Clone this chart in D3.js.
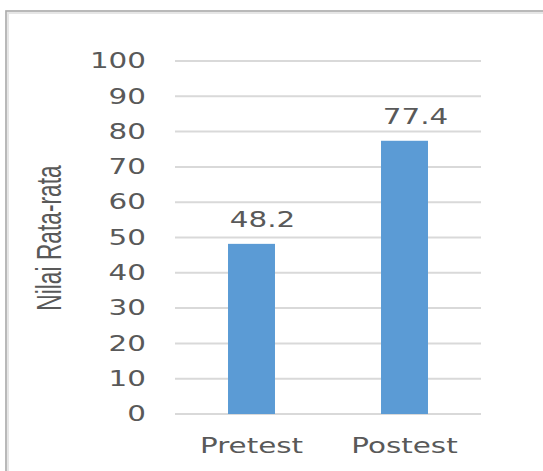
<!DOCTYPE html>
<html>
<head>
<meta charset="utf-8">
<script src="https://cdn.jsdelivr.net/npm/d3@7"></script>
<style>
  body { margin: 0; background: #fff; }
  svg { display: block; }
</style>
</head>
<body>
<svg id="chart" width="543" height="471"></svg>
<script>
var categories = ['Pretest', 'Postest'];
var values = [48.2, 77.4];
var yTicks = [0, 10, 20, 30, 40, 50, 60, 70, 80, 90, 100];
var yTitle = 'Nilai Rata-rata';

var svg = d3.select('#chart');
var textColor = '#595959';
var sx = 1.4; // the picture is stretched wide

// outer frame (runs off the right and bottom edges)
svg.append('rect')
    .attr('x', 7).attr('y', 12)
    .attr('width', 560).attr('height', 480)
    .attr('fill', 'none')
    .attr('stroke', '#e6e6e6')
    .attr('stroke-width', 4);
svg.append('rect')
    .attr('x', 6).attr('y', 11)
    .attr('width', 560).attr('height', 480)
    .attr('fill', 'none')
    .attr('stroke', '#ababab')
    .attr('stroke-width', 1.5);

var y = d3.scaleLinear().domain([0, 100]).range([414, 61]);
var x = d3.scaleBand().domain(categories).range([175, 481]).padding(0);
var barW = x.bandwidth() * 0.307;

// gridlines
svg.append('g').selectAll('line')
    .data(yTicks)
    .join('line')
    .attr('x1', 175).attr('x2', 481)
    .attr('y1', function(d) { return y(d); })
    .attr('y2', function(d) { return y(d); })
    .attr('stroke', '#d9d9d9')
    .attr('stroke-width', 2);

// y axis labels
var yAxis = svg.append('g')
    .attr('transform', 'translate(175,0)')
    .call(d3.axisLeft(y).tickValues(yTicks).tickSize(0).tickPadding(0));
yAxis.select('.domain').remove();
yAxis.selectAll('text')
    .attr('x', -29 / sx)
    .attr('transform', 'scale(' + sx + ',1)')
    .attr('fill', textColor)
    .style('font-family', 'DejaVu Sans')
    .style('font-size', '21px');

// x axis labels
var xAxis = svg.append('g')
    .attr('transform', 'translate(0,414)')
    .call(d3.axisBottom(x).tickSize(0).tickPadding(0));
xAxis.select('.domain').remove();
xAxis.selectAll('text')
    .attr('y', 39)
    .attr('dy', 0)
    .attr('transform', 'scale(' + sx + ',1)')
    .attr('fill', textColor)
    .style('font-family', 'DejaVu Sans')
    .style('font-size', '21px');
// undo the scale on tick position: tick g carries translate(x,0) so scale only the text
xAxis.selectAll('.tick text').attr('x', 0);

// bars
svg.append('g').selectAll('rect')
    .data(values)
    .join('rect')
    .attr('x', function(d, i) { return x(categories[i]) + x.bandwidth() / 2 - barW / 2; })
    .attr('y', function(d) { return y(d); })
    .attr('width', barW)
    .attr('height', function(d) { return y(0) - y(d); })
    .attr('fill', '#5b9bd5');

// data labels
svg.append('g').selectAll('text')
    .data(values)
    .join('text')
    .attr('transform', function(d, i) {
        var cx = x(categories[i]) + x.bandwidth() / 2 + 11;
        return 'translate(' + cx + ',' + (y(d) - 17) + ') scale(' + sx + ',1)';
    })
    .attr('text-anchor', 'middle')
    .attr('fill', textColor)
    .style('font-family', 'DejaVu Sans')
    .style('font-size', '21px')
    .text(function(d) { return d.toFixed(1); });

// y title, squeezed narrow
svg.append('text')
    .attr('transform', 'translate(61,238) rotate(-90) scale(0.65,1)')
    .attr('text-anchor', 'middle')
    .attr('fill', textColor)
    .style('font-family', 'Liberation Sans')
    .style('font-size', '35px')
    .text(yTitle);
</script>
</body>
</html>
